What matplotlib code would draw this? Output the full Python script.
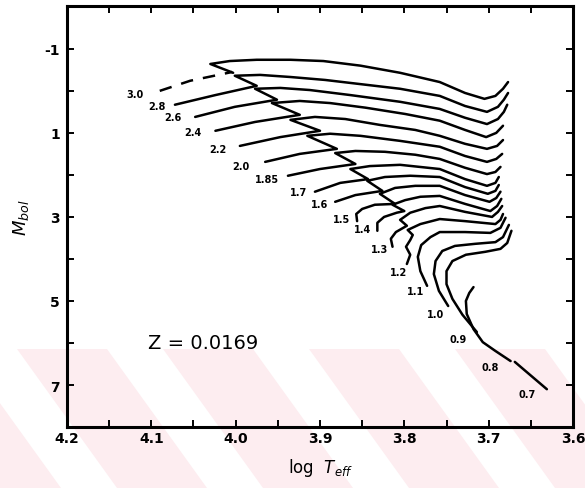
# Evolutionary tracks, Z = 0.0169 (HR diagram, log Teff vs Mbol)
import matplotlib
matplotlib.use('Agg')
import matplotlib.pyplot as plt
from matplotlib.patches import Polygon
from matplotlib.ticker import MultipleLocator

plt.rcParams['axes.unicode_minus'] = False

# track labels (mass) and where they sit
masses = ['3.0', '2.8', '2.6', '2.4', '2.2', '2.0', '1.85', '1.7', '1.6',
          '1.5', '1.4', '1.3', '1.2', '1.1', '1.0', '0.9', '0.8', '0.7']
label_logt = [4.119, 4.093, 4.074, 4.051, 4.021, 3.994, 3.963, 3.926, 3.900,
              3.874, 3.849, 3.829, 3.807, 3.787, 3.763, 3.736, 3.698, 3.654]
label_mbol = [0.07, 0.36, 0.62, 0.98, 1.38, 1.79, 2.10, 2.40, 2.69,
              3.05, 3.29, 3.76, 4.31, 4.76, 5.31, 5.90, 6.57, 7.21]

# 3.0 main sequence (dashed)
ms30_logt = [4.090, 4.054, 4.004]
ms30_mbol = [0.00, -0.24, -0.45]

logt_30 = [4.003, 4.030, 4.007, 3.975, 3.935, 3.896, 3.852, 3.805, 3.758, 3.728, 3.705, 3.692, 3.683, 3.677]
mbol_30 = [-0.43, -0.64, -0.71, -0.74, -0.74, -0.71, -0.60, -0.43, -0.21, 0.05, 0.19, 0.12, -0.05, -0.21]

logt_28 = [4.072, 4.024, 3.975, 4.001, 3.971, 3.935, 3.894, 3.856, 3.805, 3.758, 3.728, 3.702, 3.689, 3.682, 3.677]
mbol_28 = [0.33, 0.10, -0.12, -0.36, -0.38, -0.33, -0.26, -0.17, -0.05, 0.12, 0.36, 0.50, 0.38, 0.21, 0.05]

logt_26 = [4.048, 4.001, 3.951, 3.977, 3.947, 3.912, 3.864, 3.805, 3.758, 3.728, 3.702, 3.689, 3.682, 3.678]
mbol_26 = [0.62, 0.38, 0.21, -0.05, -0.07, -0.02, 0.10, 0.26, 0.43, 0.64, 0.79, 0.67, 0.50, 0.33]

logt_24 = [4.024, 3.977, 3.924, 3.957, 3.924, 3.888, 3.846, 3.799, 3.758, 3.728, 3.703, 3.691, 3.683]
mbol_24 = [0.95, 0.74, 0.57, 0.29, 0.24, 0.29, 0.40, 0.55, 0.71, 0.93, 1.10, 1.00, 0.83]

logt_22 = [3.995, 3.947, 3.900, 3.935, 3.906, 3.870, 3.829, 3.787, 3.758, 3.728, 3.702, 3.690, 3.683]
mbol_22 = [1.31, 1.10, 0.95, 0.69, 0.62, 0.67, 0.81, 0.93, 1.07, 1.26, 1.38, 1.31, 1.17]

logt_20 = [3.965, 3.924, 3.880, 3.915, 3.888, 3.852, 3.805, 3.758, 3.728, 3.702, 3.691, 3.684]
mbol_20 = [1.69, 1.50, 1.38, 1.07, 1.02, 1.07, 1.19, 1.33, 1.55, 1.69, 1.62, 1.50]

logt_185 = [3.938, 3.900, 3.858, 3.882, 3.858, 3.823, 3.787, 3.758, 3.728, 3.702, 3.692, 3.686]
mbol_185 = [2.02, 1.86, 1.74, 1.48, 1.43, 1.45, 1.52, 1.62, 1.83, 1.98, 1.93, 1.81]

logt_17 = [3.906, 3.876, 3.843, 3.864, 3.841, 3.805, 3.758, 3.728, 3.702, 3.692, 3.688]
mbol_17 = [2.40, 2.19, 2.10, 1.86, 1.79, 1.76, 1.86, 2.10, 2.26, 2.19, 2.05]

logt_16 = [3.882, 3.858, 3.826, 3.844, 3.823, 3.793, 3.758, 3.728, 3.701, 3.692, 3.688]
mbol_16 = [2.64, 2.48, 2.38, 2.14, 2.05, 2.02, 2.05, 2.29, 2.45, 2.38, 2.24]

logt_15 = [3.856, 3.857, 3.850, 3.835, 3.811, 3.829, 3.811, 3.787, 3.758, 3.728, 3.699, 3.691, 3.686]
mbol_15 = [3.10, 2.93, 2.81, 2.71, 2.69, 2.45, 2.31, 2.26, 2.26, 2.48, 2.64, 2.55, 2.40]

logt_14 = [3.832, 3.832, 3.824, 3.809, 3.800, 3.814, 3.799, 3.781, 3.758, 3.728, 3.698, 3.690, 3.685]
mbol_14 = [3.33, 3.14, 3.00, 2.90, 2.86, 2.71, 2.60, 2.52, 2.50, 2.69, 2.86, 2.74, 2.57]

logt_13 = [3.814, 3.816, 3.810, 3.797, 3.805, 3.793, 3.775, 3.758, 3.728, 3.696, 3.689, 3.684]
mbol_13 = [3.71, 3.52, 3.36, 3.21, 3.07, 2.90, 2.79, 2.74, 2.88, 3.00, 2.88, 2.74]

logt_12 = [3.797, 3.793, 3.798, 3.793, 3.790, 3.796, 3.781, 3.758, 3.728, 3.692, 3.686, 3.683]
mbol_12 = [4.12, 3.90, 3.71, 3.55, 3.43, 3.31, 3.17, 3.05, 3.10, 3.17, 3.07, 2.93]

logt_11 = [3.773, 3.781, 3.784, 3.780, 3.769, 3.758, 3.728, 3.698, 3.686, 3.680]
mbol_11 = [4.64, 4.29, 3.95, 3.67, 3.48, 3.36, 3.36, 3.38, 3.26, 3.02]

logt_10 = [3.748, 3.759, 3.765, 3.763, 3.755, 3.740, 3.716, 3.692, 3.683, 3.676]
mbol_10 = [5.12, 4.76, 4.36, 4.05, 3.81, 3.69, 3.64, 3.60, 3.48, 3.19]

logt_09 = [3.714, 3.731, 3.743, 3.750, 3.750, 3.743, 3.727, 3.704, 3.686, 3.678, 3.673]
mbol_09 = [5.74, 5.33, 4.95, 4.60, 4.29, 4.05, 3.90, 3.83, 3.76, 3.62, 3.33]

logt_08 = [3.674, 3.692, 3.707, 3.718, 3.726, 3.727, 3.723, 3.718]
mbol_08 = [6.43, 6.19, 5.98, 5.67, 5.31, 5.00, 4.81, 4.67]

logt_07 = [3.669, 3.631]
mbol_07 = [6.45, 7.10]

metallicity = 'Z = 0.0169'


def add_watermark(fig):
    # faint pink diagonal stripes from the scan
    W, H = 585.0, 489.0
    top, bot = 350, 489
    for x0 in [-129, 17, 163, 309, 455, 601]:
        pts = [(x0, top), (x0 + 90, top), (x0 + 190, bot), (x0 + 100, bot)]
        pts = [(px / W, 1 - py / H) for px, py in pts]
        fig.patches.append(Polygon(pts, closed=True, transform=fig.transFigure,
                                   facecolor='#fdedf0', edgecolor='none', zorder=-5))


def main():
    fig = plt.figure(figsize=(5.85, 4.89), dpi=100)
    add_watermark(fig)
    ax = fig.add_axes([0.1145, 0.1247, 0.865, 0.861])
    ax.set_zorder(2)
    ax.patch.set_alpha(0)

    tracks = [(logt_30, mbol_30), (logt_28, mbol_28), (logt_26, mbol_26), (logt_24, mbol_24),
              (logt_22, mbol_22), (logt_20, mbol_20), (logt_185, mbol_185), (logt_17, mbol_17),
              (logt_16, mbol_16), (logt_15, mbol_15), (logt_14, mbol_14), (logt_13, mbol_13),
              (logt_12, mbol_12), (logt_11, mbol_11), (logt_10, mbol_10), (logt_09, mbol_09),
              (logt_08, mbol_08), (logt_07, mbol_07)]
    for x, y in tracks:
        ax.plot(x, y, color='black', lw=1.8, solid_joinstyle='round', solid_capstyle='round')
    ax.plot(ms30_logt, ms30_mbol, color='black', lw=1.8, dashes=(5, 4))

    for m, x, y in zip(masses, label_logt, label_mbol):
        ax.text(x, y, m, fontsize=7, fontweight='bold', ha='center', va='center')

    ax.text(4.039, 6.0, metallicity, fontsize=14, ha='center', va='center')

    ax.set_xlim(4.2, 3.6)
    ax.set_ylim(8.0, -2.02)
    ax.xaxis.set_major_locator(MultipleLocator(0.1))
    ax.xaxis.set_minor_locator(MultipleLocator(0.05))
    ax.set_yticks([-1, 1, 3, 5, 7])
    ax.yaxis.set_minor_locator(MultipleLocator(1))
    ax.xaxis.set_major_formatter(plt.FuncFormatter(lambda v, p: '%.1f' % v))
    ax.tick_params(which='both', direction='in', top=True, right=True, length=5, width=1.4)
    ax.tick_params(axis='x', pad=3)
    ax.tick_params(axis='y', pad=5)
    for lab in ax.get_xticklabels() + ax.get_yticklabels():
        lab.set_fontweight('bold')
        lab.set_fontsize(10)
    for s in ax.spines.values():
        s.set_linewidth(2.2)

    ax.set_xlabel(r'log  $T_{eff}$', fontsize=12, labelpad=8)
    ax.set_ylabel(r'$M_{bol}$', fontsize=13, labelpad=10)

    fig.savefig('out.png', dpi=100)


if __name__ == "__main__":
    main()
